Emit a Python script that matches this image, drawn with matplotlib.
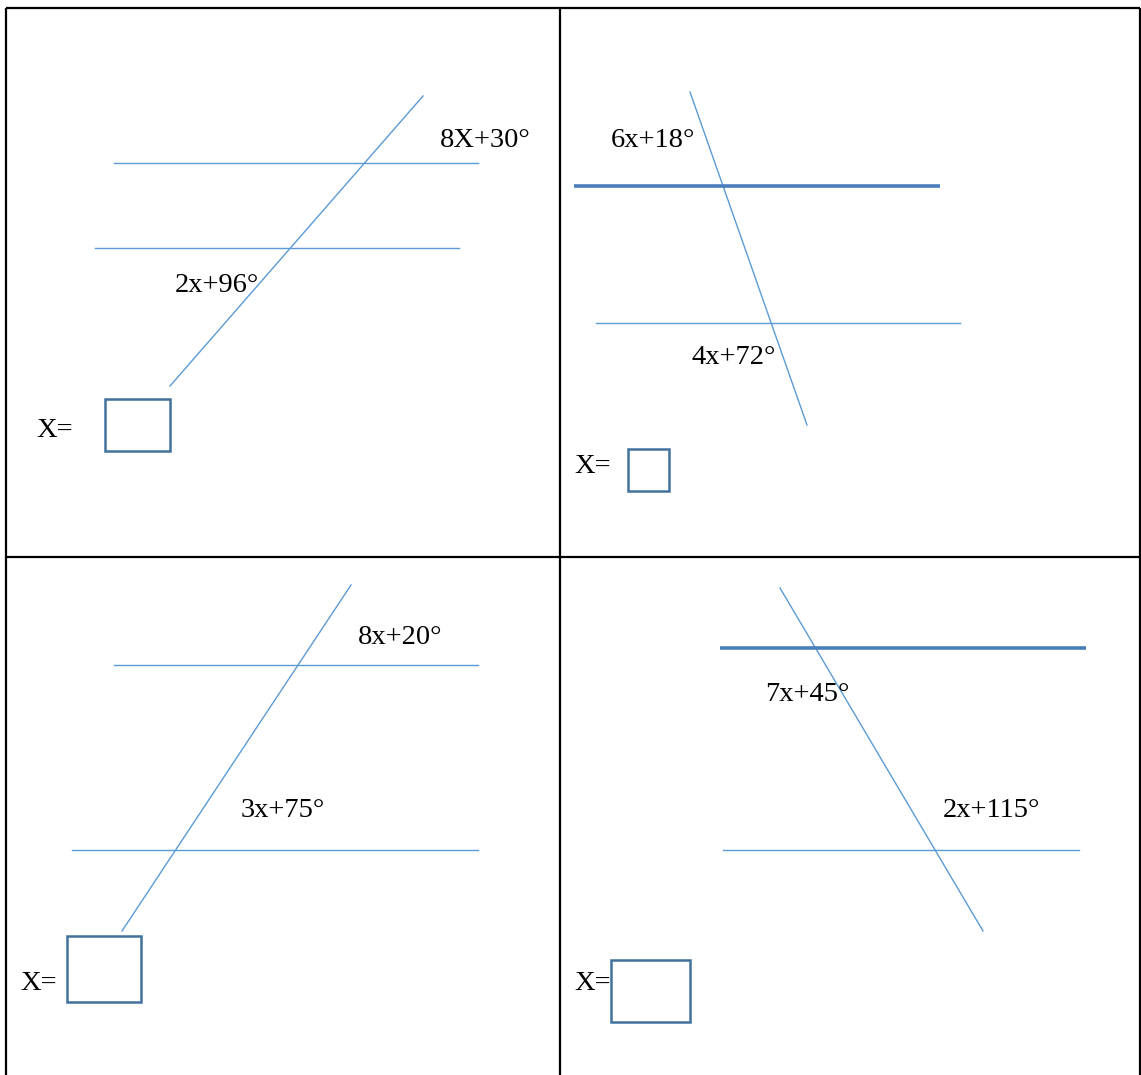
import matplotlib.pyplot as plt

# Worksheet: four parallel-lines-and-transversal problems (pixel coordinates)
W, H = 1141, 1075

# grid of the table
grid_h = [(6, 1140, 8), (6, 1140, 557)]          # x0, x1, y
grid_v = [(6, 8, 1075), (560, 8, 1075), (1140, 8, 1075)]  # x, y0, y1

# thin lines (parallel lines and transversals)
thin_lines = [
    ((170, 423), (386, 96)),
    ((114, 478), (163, 163)),
    ((95, 459), (248, 248)),
    ((690, 807), (92, 425)),
    ((596, 960), (323, 323)),
    ((122, 351), (931, 585)),
    ((114, 478), (665, 665)),
    ((72, 478), (850, 850)),
    ((780, 983), (588, 931)),
    ((723, 1079), (850, 850)),
]

# thick parallel lines
thick_lines = [
    ((574, 940), (186, 186)),
    ((720, 1086), (648, 648)),
]

# angle labels: text, left x, baseline y
labels = ["8X+30°", "2x+96°", "6x+18°", "4x+72°",
          "8x+20°", "3x+75°", "7x+45°", "2x+115°",
          "X=", "X=", "X=", "X="]
label_x = [440, 175, 611, 692, 358, 241, 765, 943, 36, 574, 20, 574]
label_y = [147, 292, 147, 364, 644, 817, 701, 817, 437, 473, 990, 990]

# answer boxes: x0, y0, x1, y1
boxes = [(105, 399, 170, 451), (628, 449, 669, 491),
         (67, 936, 141, 1002), (611, 960, 690, 1022)]

fig = plt.figure(figsize=(W / 100, H / 100), dpi=100)
ax = fig.add_axes([0, 0, 1, 1])
ax.set_xlim(0, W)
ax.set_ylim(H, 0)
ax.axis('off')

for x0, x1, y in grid_h:
    ax.plot([x0, x1], [y, y], color='black', linewidth=1.6, solid_capstyle='butt')
for x, y0, y1 in grid_v:
    ax.plot([x, x], [y0, y1], color='black', linewidth=1.6, solid_capstyle='butt')

for xs, ys in thin_lines:
    ax.plot(xs, ys, color='#5b9bd5', linewidth=1.0)
for xs, ys in thick_lines:
    ax.plot(xs, ys, color='#4a7ebb', linewidth=2.6, solid_capstyle='butt')

for x0, y0, x1, y1 in boxes:
    ax.add_patch(plt.Rectangle((x0, y0), x1 - x0, y1 - y0, fill=False,
                               edgecolor='#41719c', linewidth=1.8))

for txt, x, y in zip(labels, label_x, label_y):
    ax.text(x, y, txt, fontsize=20.5, family='Liberation Serif',
            ha='left', va='baseline', color='black')

fig.savefig('out.png', dpi=100)
